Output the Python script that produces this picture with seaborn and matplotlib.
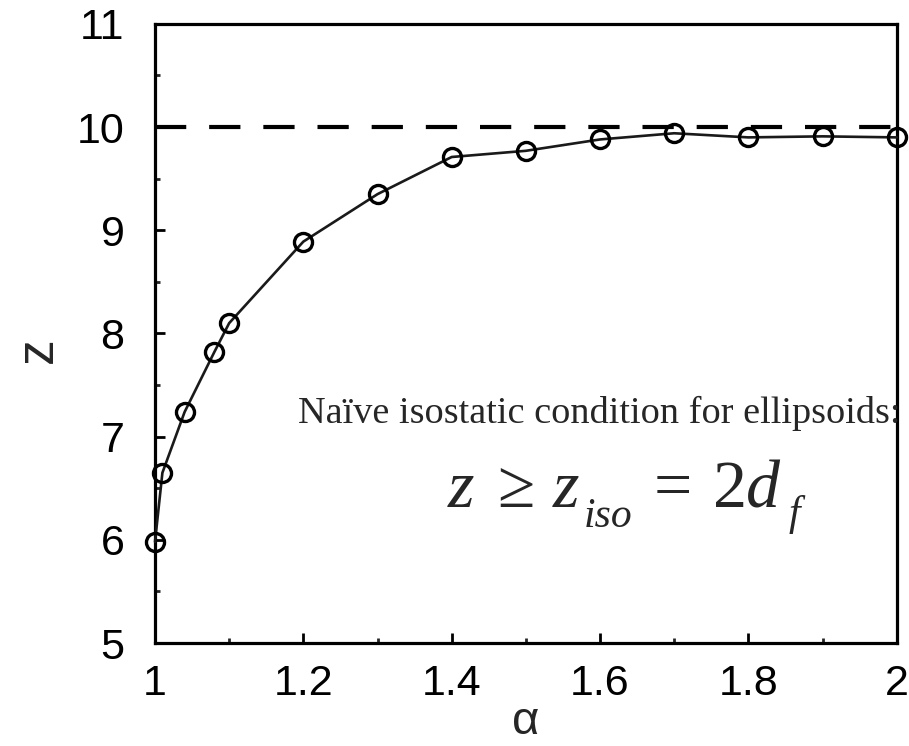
import numpy as np
import matplotlib
matplotlib.use('Agg')
import matplotlib.pyplot as plt
import seaborn as sns
from matplotlib.ticker import MultipleLocator

# values
alpha = [1.0, 1.01, 1.04, 1.08, 1.10, 1.2, 1.3, 1.4, 1.5, 1.6, 1.7, 1.8, 1.9, 2.0]
z = [5.98, 6.65, 7.24, 7.82, 8.10, 8.89, 9.35, 9.71, 9.77, 9.88, 9.94, 9.90, 9.91, 9.90]
z_iso = 10
x_ticks = [1, 1.2, 1.4, 1.6, 1.8, 2]
x_tick_labels = ['1', '1.2', '1.4', '1.6', '1.8', '2']
y_ticks = [5, 6, 7, 8, 9, 10, 11]

W, H = 909, 746
sns.set_style('ticks')
plt.rcParams['font.family'] = ['Liberation Sans', 'DejaVu Sans']

fig = plt.figure(figsize=(W / 100, H / 100), dpi=100)
ax = fig.add_axes([0.1705, 0.138, 0.816, 0.83])

# isostatic limit
ax.axhline(z_iso, color='black', lw=3, dashes=(7.5, 5.5), zorder=2)

sns.lineplot(x=alpha, y=z, ax=ax, color='#1a1a1a', lw=1.9, marker='o',
             markersize=13, markerfacecolor='none', markeredgecolor='black',
             markeredgewidth=2.4, clip_on=False, zorder=3)

ax.set_xlim(1, 2)
ax.set_ylim(5, 11)
ax.set_xticks(x_ticks)
ax.set_xticklabels(x_tick_labels)
ax.set_yticks(y_ticks)
ax.xaxis.set_minor_locator(MultipleLocator(0.1))
ax.yaxis.set_minor_locator(MultipleLocator(0.5))

ax.tick_params(which='major', direction='in', length=7, width=2, labelsize=31,
               colors='black')
ax.tick_params(which='minor', direction='in', length=3.5, width=2)
ax.tick_params(axis='y', pad=22)
ax.tick_params(axis='x', pad=15)
for s in ax.spines.values():
    s.set_linewidth(2.3)
    s.set_color('black')

ax.set_xlabel('α', fontsize=34)
ax.xaxis.set_label_coords(0.5, -0.128)
ax.xaxis.label.set_verticalalignment('center')
ax.set_ylabel('z', fontsize=37)
ax.yaxis.set_label_coords(-0.124, 0.473)


def px(x, y):
    return x / W, 1 - y / H


serif = ['Liberation Serif', 'DejaVu Serif']
fig.text(*px(298, 423), 'Naïve isostatic condition for ellipsoids:',
         fontsize=27.5, family=serif, va='baseline')

# z >= z_iso = 2 d_f, set piece by piece
big, small = 49, 30
pieces = [
    (448, 507, 'z', big, 'italic'),
    (497, 507, '≥', big, 'normal'),
    (553, 507, 'z', big, 'italic'),
    (584, 527, 'iso', small, 'italic'),
    (654, 507, '=', big, 'normal'),
    (713, 507, '2', big, 'normal'),
    (746, 507, 'd', big, 'italic'),
    (789, 525, 'f', small, 'italic'),
]
for x, y, s, size, style in pieces:
    fig.text(*px(x, y), s, fontsize=size, family=serif, style=style,
             va='baseline')

fig.savefig('out.png', dpi=100)
